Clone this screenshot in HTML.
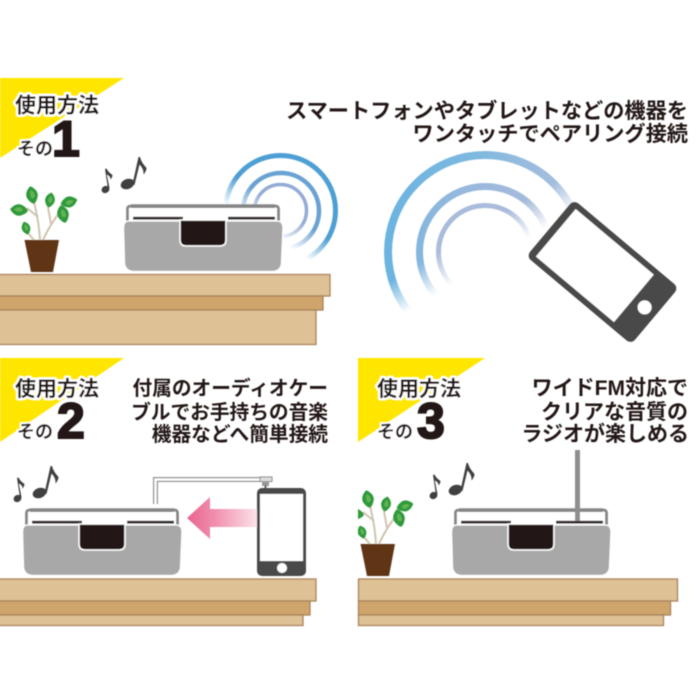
<!DOCTYPE html>
<html><head><meta charset="utf-8"><style>
html,body{margin:0;padding:0;background:#fff}
svg{display:block}
text{font-family:"Liberation Sans","Noto Sans CJK JP",sans-serif;font-weight:700;fill:#231815}
.cap{font-size:21px;text-anchor:end}
.cap2{font-size:19.700px;text-anchor:end}
.lab{font-size:21px;stroke:#fff;stroke-width:5px;paint-order:stroke;stroke-linejoin:round}
.sono{font-size:18px;stroke:#fff;stroke-width:4px;paint-order:stroke;stroke-linejoin:round}
.num{font-size:50px;stroke:#231815;stroke-width:2px;font-family:"Liberation Sans",sans-serif}
</style></head><body>
<svg width="700" height="700" viewBox="0 0 700 700" xmlns="http://www.w3.org/2000/svg">
<defs>
<filter id="soft" x="-2%" y="-2%" width="104%" height="104%"><feGaussianBlur stdDeviation="0.45"/></filter>
<linearGradient id="fm1" gradientUnits="userSpaceOnUse" x1="266" y1="232" x2="282" y2="208"><stop offset="0" stop-color="#000"/><stop offset="1" stop-color="#fff"/></linearGradient>
<mask id="m1" maskUnits="userSpaceOnUse" x="200" y="130" width="160" height="160"><rect x="200" y="130" width="160" height="160" fill="url(#fm1)"/></mask>
<linearGradient id="fm2" gradientUnits="userSpaceOnUse" x1="490" y1="262" x2="472" y2="232"><stop offset="0" stop-color="#000"/><stop offset="1" stop-color="#fff"/></linearGradient>
<mask id="m2" maskUnits="userSpaceOnUse" x="360" y="130" width="260" height="240"><rect x="360" y="130" width="260" height="240" fill="url(#fm2)"/></mask>
<linearGradient id="c2a" gradientUnits="userSpaceOnUse" x1="400" y1="250" x2="570" y2="200"><stop offset="0" stop-color="#6cb4e0"/><stop offset="0.55" stop-color="#7db8e0"/><stop offset="1" stop-color="#a9bedd"/></linearGradient>
<linearGradient id="c2b" gradientUnits="userSpaceOnUse" x1="420" y1="250" x2="550" y2="210"><stop offset="0" stop-color="#85b6de"/><stop offset="1" stop-color="#aabbdb"/></linearGradient>
<linearGradient id="arrow" gradientUnits="userSpaceOnUse" x1="187" y1="0" x2="257" y2="0"><stop offset="0" stop-color="#e9638f"/><stop offset="0.4" stop-color="#f08fae"/><stop offset="1" stop-color="#fbe3ea"/></linearGradient>
<clipPath id="c3"><rect x="358" y="440" width="120" height="140"/></clipPath>
<g id="radio">
  <path d="M4.500 17V5Q4.500 2 8 2H152Q155.500 2 155.500 5V17" fill="#fff" stroke="#868686" stroke-width="2.800"/>
  <rect x="8" y="0.300" width="144" height="3.700" fill="#868686"/>
  <rect x="10" y="12.800" width="50" height="2.800" fill="#2b2320"/>
  <rect x="105" y="12.800" width="47" height="2.800" fill="#2b2320"/>
  <path d="M5 17Q0.500 17.500 0.500 24L1.500 60Q3 67.500 11 67.500H149Q157 67.500 158.500 60L160 24Q160 17.500 155 17Z" fill="#a8a8a8" stroke="#fff" stroke-width="1.300"/>
  <path d="M57 16V36Q57 42 63 42H97Q103 42 103 36V16Z" fill="#231815" stroke="#fff" stroke-width="1.500"/>
</g>
<g id="leafshape"><path d="M0 -9Q7 -4 5.500 2Q3 8 0 9Q-3 8 -5.500 2Q-7 -4 0 -9Z" fill="#2f9a3a"/><path d="M0 -5Q3.500 -2 2.500 2Q1 4 -1 3Q-3 -1 0 -5Z" fill="#63b257"/></g>
<g id="plant">
  <g fill="none" stroke="#cfc4b0" stroke-width="2"><path d="M40 240Q39 222 34 202"/><path d="M43 240Q50 224 63 208"/><path d="M34 240L27 232"/><path d="M51 224L48 207"/><path d="M38 217L27 208"/></g>
  <use href="#leafshape" transform="translate(32 195) rotate(-12)"/>
  <use href="#leafshape" transform="translate(50 200) rotate(12) scale(.85)"/>
  <use href="#leafshape" transform="translate(69 202) rotate(75) scale(.95)"/>
  <use href="#leafshape" transform="translate(63 214) rotate(-15)"/>
  <use href="#leafshape" transform="translate(19 210) rotate(-85) scale(1)"/>
  <use href="#leafshape" transform="translate(26 228) rotate(-18) scale(.75)"/>
  <path d="M24.500 240H59L53 272H31Z" fill="#5e3617"/>
</g>
<g id="notes" fill="#3f3f3f">
  <ellipse cx="105.500" cy="189.500" rx="4" ry="3.500" transform="rotate(-25 105.500 189.500)"/>
  <path d="M108 189L105 169L106.500 168.500Q108 172 112.500 175Q112.500 177 110.500 179.500Q110.500 176 106.800 174.500L109.500 188Z"/>
  <ellipse cx="127.500" cy="184" rx="7" ry="5" transform="rotate(-20 127.500 184)"/>
  <path d="M132.500 184L138.500 157L140 157Q141 162 146.500 168Q146.500 171 143.500 174.500Q144 169 139.500 164.500L134.500 185Z"/>
</g>
</defs>
<rect width="700" height="700" fill="#fff"/>
<g filter="url(#soft)">
<path d="M0 78H124L0 158Z" fill="#ffe600"/>
<path d="M0 358H124L0 442Z" fill="#ffe600"/>
<path d="M358 358H485L358 442Z" fill="#ffe600"/>

<g fill="none" mask="url(#m1)">
  <circle cx="280.500" cy="210.500" r="55" stroke="#4d9fd4" stroke-width="5"/>
  <circle cx="281" cy="211" r="38" stroke="#6aa2d3" stroke-width="4.500"/>
  <circle cx="280.500" cy="210.500" r="26" stroke="#93abd5" stroke-width="3.500"/>
</g>
<g fill="none" mask="url(#m2)">
  <circle cx="485" cy="252" r="97" stroke="url(#c2a)" stroke-width="8"/>
  <circle cx="485" cy="252" r="65.500" stroke="url(#c2b)" stroke-width="7"/>
  <circle cx="485" cy="252" r="46.500" stroke="#a9bcdb" stroke-width="5"/>
</g>
<g transform="translate(602.500 272) rotate(-50)">
  <rect x="-37" y="-68.500" width="74" height="137" rx="6" fill="#4a4a4a"/>
  <rect x="-31" y="-61" width="62" height="102" fill="#fff"/>
  <circle cx="0" cy="55" r="7" fill="#fff"/>
</g>

<g stroke="#a9825a" stroke-width="1.300">
  <rect x="-2" y="274.500" width="332" height="21.500" fill="#dfc196"/>
  <rect x="-2" y="296" width="325" height="14" fill="#cfa56c"/>
  <rect x="-2" y="310" width="318" height="34.500" fill="#dfc196"/>
  <rect x="-2" y="579" width="318" height="22" fill="#dfc196"/>
  <rect x="-2" y="601" width="312" height="14" fill="#cfa56c"/>
  <rect x="-2" y="615" width="305" height="10.500" fill="#dfc196"/>
  <rect x="358.500" y="579" width="319" height="22" fill="#dfc196"/>
  <rect x="358.500" y="601" width="312" height="14" fill="#cfa56c"/>
  <rect x="358.500" y="615" width="305" height="10.500" fill="#dfc196"/>
</g>

<use href="#plant"/>
<g clip-path="url(#c3)"><use href="#plant" transform="translate(336 304)"/></g>
<use href="#notes"/>
<use href="#notes" transform="translate(-88 309)"/>
<use href="#notes" transform="translate(328 306)"/>

<use href="#radio" transform="translate(123 204)"/>
<use href="#radio" transform="translate(22 508)"/>
<use href="#radio" transform="translate(451 508)"/>
<rect x="575" y="450" width="5" height="71" fill="#8e8e8e"/>

<path d="M155.500 504V479.500H262" fill="none" stroke="#8f8f8f" stroke-width="5"/>
<path d="M155.500 504V479.500H262" fill="none" stroke="#fff" stroke-width="2.500"/>
<rect x="260" y="477" width="12" height="4.500" fill="#ddd" stroke="#888" stroke-width="1"/>
<rect x="262" y="481" width="7" height="5" fill="#999"/>
<rect x="264.500" y="485" width="2" height="4" fill="#666"/>
<path d="M187 518L210 497V509H257V527H210V539Z" fill="url(#arrow)"/>
<rect x="257" y="488" width="49" height="88" rx="5" fill="#4a4a4a"/>
<rect x="260" y="494" width="43" height="67" fill="#fff"/>
<circle cx="282" cy="568" r="5" fill="#fff"/>
</g>

<g filter="url(#soft)">
<text class="cap" x="688" y="118" style="font-size:21.200px">スマートフォンやタブレットなどの機器を</text>
<text class="cap" x="688" y="141" style="font-size:21.200px">ワンタッチでペアリング接続</text>
<text class="cap2" x="328" y="395">付属のオーディオケー</text>
<text class="cap2" x="328" y="419">ブルでお手持ちの音楽</text>
<text class="cap2" x="328" y="441">機器などへ簡単接続</text>
<text class="cap" x="688" y="395">ワイドFM対応で</text>
<text class="cap" x="688" y="419">クリアな音質の</text>
<text class="cap" x="689" y="441">ラジオが楽しめる</text>

<text class="lab" x="15" y="112.500" textLength="84">使用方法</text>
<text class="sono" x="17" y="155">その</text>
<text class="num" x="52" y="156">1</text>

<text class="lab" x="15" y="396" textLength="84">使用方法</text>
<text class="sono" x="17" y="438">その</text>
<text class="num" x="57" y="438">2</text>

<text class="lab" x="377" y="396" textLength="84">使用方法</text>
<text class="sono" x="377" y="438">その</text>
<text class="num" x="417" y="438">3</text>
</g>
</svg>
</body></html>
